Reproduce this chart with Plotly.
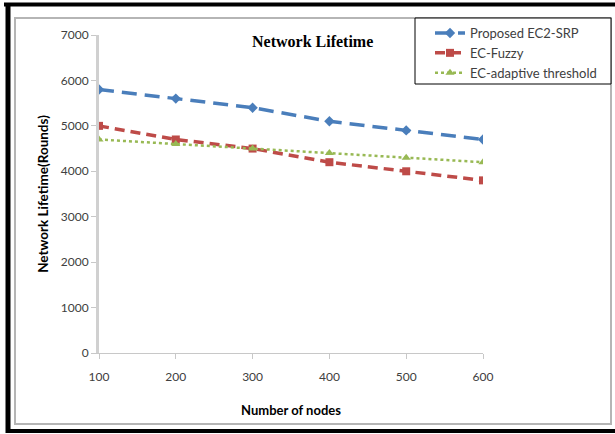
import plotly.graph_objects as go

nodes = [100, 200, 300, 400, 500, 600]
proposed = [5800, 5600, 5400, 5100, 4900, 4700]
ec_fuzzy = [5000, 4700, 4500, 4200, 4000, 3800]
ec_adaptive = [4700, 4600, 4500, 4400, 4300, 4200]
y_ticks = [0, 1000, 2000, 3000, 4000, 5000, 6000, 7000]

W, H = 615, 434
L, R, T, B = 99, 483, 35, 353

def px(x):
    return (x - L) / (R - L)

def py(y):
    return (B - y) / (B - T)

fig = go.Figure()
fig.add_trace(go.Scatter(x=nodes, y=proposed, name="Proposed EC2-SRP", mode="lines+markers",
                         line=dict(color="#4a7ebb", width=3.5, dash="15px,8px"),
                         marker=dict(symbol="diamond", size=8, color="#4a7ebb")))
fig.add_trace(go.Scatter(x=nodes, y=ec_fuzzy, name="EC-Fuzzy", mode="lines+markers",
                         line=dict(color="#be4b48", width=3.5, dash="10px,6px"),
                         marker=dict(symbol="square", size=8, color="#be4b48")))
fig.add_trace(go.Scatter(x=nodes, y=ec_adaptive, name="EC-adaptive threshold", mode="lines+markers",
                         line=dict(color="#98b954", width=2.5, dash="dot"),
                         marker=dict(symbol="triangle-up", size=8, color="#98b954")))

shapes = [
    dict(type="rect", xref="paper", yref="paper", x0=px(15), x1=px(611), y0=py(424), y1=py(18),
         line=dict(color="#b5b5b5", width=2), layer="below"),
    dict(type="line", xref="paper", yref="paper", x0=px(4), x1=px(615), y0=py(4.5), y1=py(4.5),
         line=dict(color="black", width=4)),
    dict(type="line", xref="paper", yref="paper", x0=px(8), x1=px(8), y0=py(3), y1=py(433),
         line=dict(color="black", width=5)),
    dict(type="line", xref="paper", yref="paper", x0=px(6), x1=px(615), y0=py(431), y1=py(431),
         line=dict(color="black", width=4)),
    dict(type="rect", xref="paper", yref="paper", x0=px(415), x1=px(611), y0=py(84), y1=py(18),
         line=dict(color="black", width=1), fillcolor="white", layer="below"),
]

font_main = "Lato, Open Sans, sans-serif"

fig.update_layout(
    width=W, height=H,
    margin=dict(l=L, r=W - R, t=T, b=H - B, pad=0),
    paper_bgcolor="white", plot_bgcolor="white",
    showlegend=True,
    legend=dict(x=px(430), y=py(18), xanchor="left", yanchor="top",
                bgcolor="rgba(0,0,0,0)", borderwidth=0,
                font=dict(family=font_main, size=13, color="#404040"),
                tracegroupgap=0, itemwidth=30),
    shapes=shapes,
    annotations=[
        dict(text="<b>Network Lifetime</b>", xref="paper", yref="paper", x=px(312), y=py(41),
             xanchor="center", yanchor="middle", showarrow=False,
             font=dict(family="Liberation Serif, Times New Roman, serif", size=16, color="black")),
    ],
    xaxis=dict(range=[100, 600], tickvals=nodes, ticktext=[str(n) for n in nodes],
               showgrid=False, zeroline=False, showline=True, linecolor="#c8c8c8", linewidth=1,
               ticks="outside", ticklen=5, tickcolor="#c8c8c8", ticklabelstandoff=8,
               tickfont=dict(family=font_main, size=12, color="#404040"),
               title=dict(text="<b>Number of nodes</b>", standoff=22,
                          font=dict(family=font_main, size=13, color="black"))),
    yaxis=dict(range=[0, 7000], tickvals=y_ticks, ticktext=[str(v) for v in y_ticks],
               showgrid=False, zeroline=False, showline=True, linecolor="#d0d0d0", linewidth=3,
               ticks="outside", ticklen=5, tickcolor="#c8c8c8",
               tickfont=dict(family=font_main, size=12, color="#404040"),
               title=dict(text="<b>Network Lifetime(Rounds)</b>", standoff=10,
                          font=dict(family=font_main, size=13.5, color="black"))),
)

fig.write_html("out.html", config={"displayModeBar": False},
               post_script="document.body.style.margin='0';document.body.style.overflow='hidden';")
